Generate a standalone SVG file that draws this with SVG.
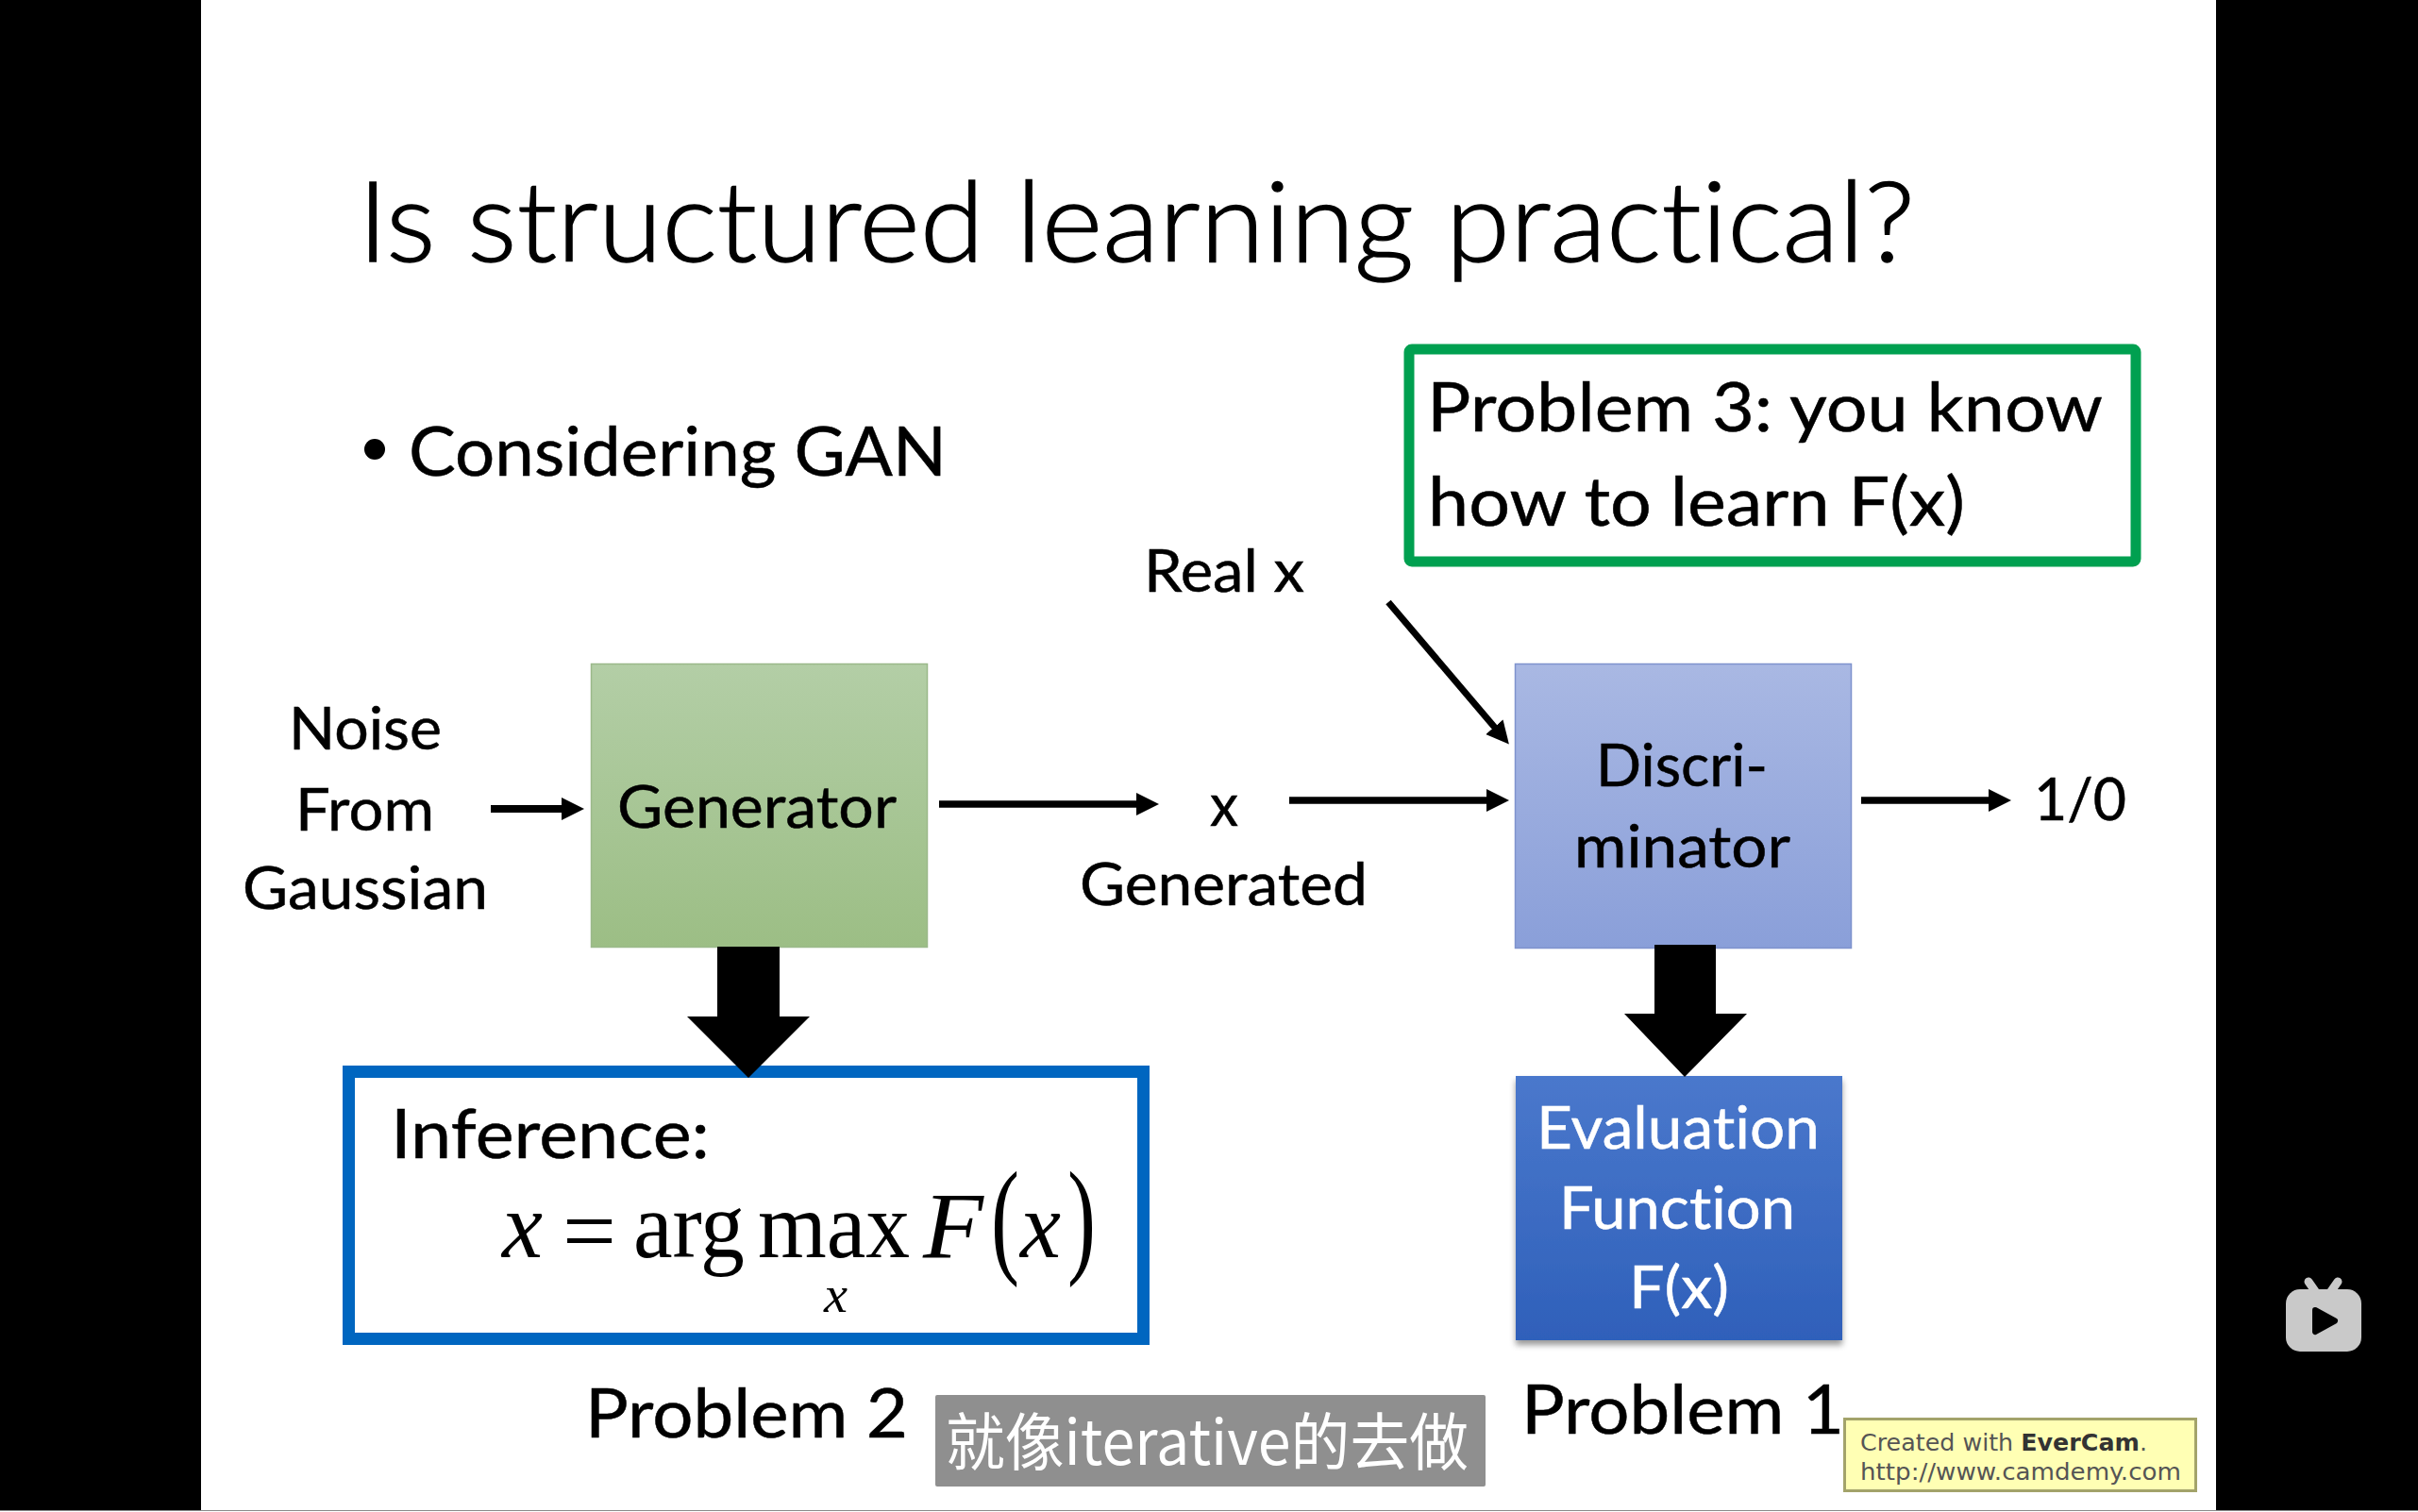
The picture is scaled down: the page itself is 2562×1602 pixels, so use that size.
<svg xmlns="http://www.w3.org/2000/svg" width="2562" height="1602" viewBox="0 0 2562 1602">
<style>
text{font-family:"Lato","Carlito","Noto Sans",sans-serif;fill:#000;font-variant-ligatures:none;font-kerning:normal}
.t60{font-size:61px;stroke:#000;stroke-width:.5px}
.t72{font-size:72px;stroke:#000;stroke-width:.5px}
.m{font-family:"Liberation Serif","Times New Roman",serif;font-size:100px}
.i{font-style:italic}
.c{stroke:#000;fill:none}
.w{fill:#fff;stroke:#fff}
.wm{font-family:"DejaVu Sans",sans-serif;font-size:25px;fill:#555}
</style>
<defs>
<marker id="ah" markerUnits="userSpaceOnUse" markerWidth="26" markerHeight="26" refX="1" refY="12" orient="auto"><path d="M0 0L24 12L0 24Z" fill="#000"/></marker>
<linearGradient id="gG" x1="0" y1="0" x2="0" y2="1"><stop offset="0" stop-color="#b3cea6"/><stop offset="1" stop-color="#9cbe85"/></linearGradient>
<linearGradient id="gD" x1="0" y1="0" x2="0" y2="1"><stop offset="0" stop-color="#a9b8e3"/><stop offset="1" stop-color="#8a9fd9"/></linearGradient>
<linearGradient id="gE" x1="0" y1="0" x2="0" y2="1"><stop offset="0" stop-color="#4a78cc"/><stop offset="1" stop-color="#2f60ba"/></linearGradient>
<filter id="sh" x="-5%" y="-5%" width="110%" height="110%"><feDropShadow dx="0" dy="5" stdDeviation="3" flood-color="#000" flood-opacity=".4"/></filter>
</defs>

<g id="frame">
<rect width="2562" height="1602" fill="#fff"/>
<rect x="0" y="0" width="213" height="1600" fill="#000"/>
<rect x="2348" y="0" width="214" height="1600" fill="#000"/>
<rect x="0" y="1600" width="2562" height="1" fill="#8a8a8a"/>
</g>

<g id="title"><text x="379" y="277" font-size="118" font-weight="300" stroke="#000" stroke-width="1.4" textLength="1650" lengthAdjust="spacingAndGlyphs">Is structured learning practical?</text></g>
<g id="bullet"><circle cx="397" cy="476" r="11" fill="#000"/><text x="433" y="504" class="t72" textLength="570" lengthAdjust="spacingAndGlyphs">Considering GAN</text></g>

<g id="noise">
<text class="t60" x="306" y="794" textLength="162" lengthAdjust="spacingAndGlyphs">Noise</text>
<text class="t60" x="313" y="880" textLength="147" lengthAdjust="spacingAndGlyphs">From</text>
<text class="t60" x="257" y="963" textLength="260" lengthAdjust="spacingAndGlyphs">Gaussian</text>
</g>

<g id="generator">
<rect x="626.5" y="703.5" width="356" height="300" fill="url(#gG)" stroke="#9bb98a" stroke-width="1.5"/>
<text class="t60" x="654" y="877" textLength="296" lengthAdjust="spacingAndGlyphs">Generator</text>
</g>

<g id="discriminator">
<rect x="1605.5" y="703.5" width="356" height="301" fill="url(#gD)" stroke="#7f93cd" stroke-width="1.5"/>
<text class="t60" x="1691" y="833" textLength="182" lengthAdjust="spacingAndGlyphs">Discri-</text>
<text class="t60" x="1668" y="919" textLength="229" lengthAdjust="spacingAndGlyphs">minator</text>
</g>

<g id="generated-x">
<text class="t60" x="1282" y="875" textLength="30" lengthAdjust="spacingAndGlyphs">x</text>
<text class="t60" x="1144" y="959" textLength="305" lengthAdjust="spacingAndGlyphs">Generated</text>
</g>
<g id="real-x"><text class="t60" x="1212" y="627" textLength="170" lengthAdjust="spacingAndGlyphs">Real x</text></g>
<g id="output"><text class="t60" x="2155" y="869" textLength="98" lengthAdjust="spacingAndGlyphs">1/0</text></g>

<g id="problem3">
<rect x="1493" y="370" width="770" height="225" rx="3" fill="#fff" stroke="#00a050" stroke-width="11"/>
<text class="t72" x="1512" y="457" textLength="716" lengthAdjust="spacingAndGlyphs">Problem 3: you know</text>
<text class="t72" x="1513" y="557" textLength="569" lengthAdjust="spacingAndGlyphs">how to learn F(x)</text>
</g>

<g id="inference">
<rect x="369.5" y="1135.5" width="842" height="283" fill="#fff" stroke="#0066c0" stroke-width="13"/>
<text class="t72" x="414" y="1227" textLength="338" lengthAdjust="spacingAndGlyphs">Inference:</text>
<text class="m i" x="532" y="1332" textLength="43" lengthAdjust="spacingAndGlyphs">x</text>
<text class="m" x="596" y="1338" textLength="57" lengthAdjust="spacingAndGlyphs">=</text>
<text class="m" x="671" y="1332" textLength="118" lengthAdjust="spacingAndGlyphs">arg</text>
<text class="m" x="803" y="1332" textLength="161" lengthAdjust="spacingAndGlyphs">max</text>
<text class="m i" x="978" y="1332" textLength="64" lengthAdjust="spacingAndGlyphs">F</text>
<text class="m" x="1050" y="1335" style="font-size:136px" textLength="30" lengthAdjust="spacingAndGlyphs">(</text>
<text class="m i" x="1081" y="1332" textLength="43" lengthAdjust="spacingAndGlyphs">x</text>
<text class="m" x="1131" y="1335" style="font-size:136px" textLength="30" lengthAdjust="spacingAndGlyphs">)</text>
<text class="m i" x="873" y="1390" style="font-size:54px" textLength="25" lengthAdjust="spacingAndGlyphs">x</text>
</g>
<g id="problem2-label"><text class="t72" x="620" y="1523" textLength="342" lengthAdjust="spacingAndGlyphs">Problem 2</text></g>

<g id="evaluation">
<rect x="1606" y="1140" width="346" height="280" fill="url(#gE)" filter="url(#sh)"/>
<text class="t60 w" x="1628" y="1217" textLength="300" lengthAdjust="spacingAndGlyphs">Evaluation</text>
<text class="t60 w" x="1652" y="1302" textLength="250" lengthAdjust="spacingAndGlyphs">Function</text>
<text class="t60 w" x="1726" y="1386" textLength="106" lengthAdjust="spacingAndGlyphs">F(x)</text>
</g>
<g id="problem1-label"><text class="t72" x="1612" y="1519" textLength="342" lengthAdjust="spacingAndGlyphs">Problem 1</text></g>

<g id="connectors">
<line class="c" x1="520" y1="857" x2="596" y2="857" stroke-width="8" marker-end="url(#ah)"/>
<line class="c" x1="995" y1="852" x2="1205" y2="852" stroke-width="7.5" marker-end="url(#ah)"/>
<line class="c" x1="1366" y1="848" x2="1576" y2="848" stroke-width="7.5" marker-end="url(#ah)"/>
<line class="c" x1="1972" y1="848" x2="2108" y2="848" stroke-width="7.5" marker-end="url(#ah)"/>
<line class="c" x1="1471" y1="638" x2="1584" y2="771" stroke-width="7" marker-end="url(#ah)"/>
<polygon points="760,1003 826,1003 826,1077 858,1077 793,1142 728,1077 760,1077" fill="#000"/>
<polygon points="1753,1001 1818,1001 1818,1074 1851,1074 1785,1141 1721,1074 1753,1074" fill="#000"/>
</g>

<g id="caption">
<rect x="991" y="1478" width="583" height="97" rx="2" fill="#8f8f8f"/>
<text x="1002" y="1552" style="font-family:'Noto Sans CJK SC','Noto Sans',sans-serif;font-size:66px;fill:#fff" textLength="554" lengthAdjust="spacingAndGlyphs">就像iterative的去做</text>
</g>

<g id="watermark">
<rect x="1954.5" y="1503.5" width="372" height="76" fill="#ffffb4" stroke="#a3a36a" stroke-width="3"/>
<text class="wm" x="1971" y="1537" textLength="304" lengthAdjust="spacingAndGlyphs">Created with <tspan font-weight="bold" fill="#333">EverCam</tspan>.</text>
<text class="wm" x="1971" y="1568" textLength="340" lengthAdjust="spacingAndGlyphs">http://www.camdemy.com</text>
</g>

<g id="player-icon">
<path d="M2446 1358L2453 1368M2477 1358L2470 1368" stroke="#c9c9c9" stroke-width="9" stroke-linecap="round" fill="none"/>
<rect x="2422" y="1366" width="80" height="66" rx="15" fill="#c9c9c9"/>
<path d="M2453 1388L2474 1399.5L2453 1411Z" fill="#000" stroke="#000" stroke-width="6" stroke-linejoin="round"/>
</g>
</svg>
